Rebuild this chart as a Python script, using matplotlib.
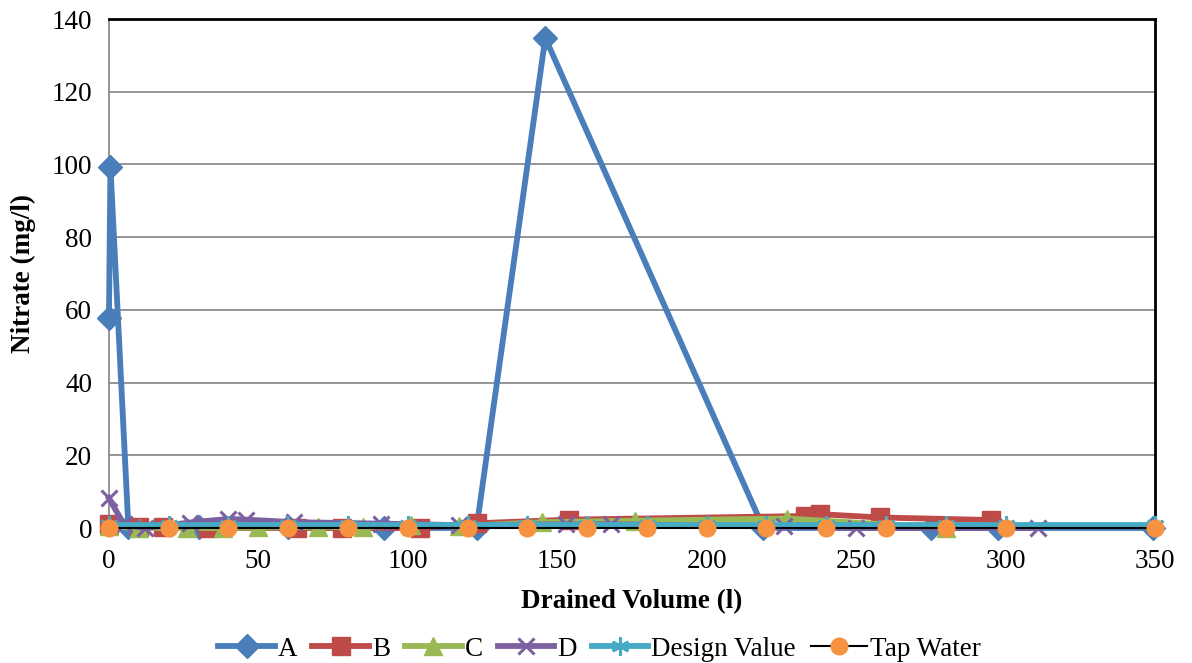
import matplotlib
matplotlib.use("Agg")
import matplotlib.pyplot as plt

plt.rcParams["font.family"] = ["Liberation Serif", "DejaVu Serif"]

# drained volume (l) and nitrate (mg/l) per column
a_x = [0, 0.5, 6.5, 30, 60, 92, 123, 146, 219, 275, 297.5, 349.5]
a_y = [57.8, 99.3, 0.3, 0.2, 0.2, 0.0, 0.0, 134.8, 0.0, 0.0, 0.0, 0.0]

b_x = [0, 10, 18, 33, 63, 78, 104, 123, 154, 233, 238, 258, 295]
b_y = [1.0, 0.3, 0.2, 0.0, 0.0, 0.0, 0.0, 1.3, 2.3, 3.3, 3.8, 2.9, 2.2]

c_x = [0, 10, 26, 38, 50, 70, 85, 101, 117, 145, 176, 227, 280]
c_y = [0.5, 0.0, 0.0, 0.0, 0.2, 0.3, 0.2, 0.8, 0.5, 1.6, 2.0, 2.6, 0.0]

d_x = [0, 5, 12, 27, 40, 46, 62, 91, 117, 153, 168, 226, 250, 311]
d_y = [8.2, 1.0, 0.0, 1.5, 2.5, 2.3, 1.6, 1.2, 0.8, 1.0, 1.0, 0.5, 0.0, 0.0]

ref_x = [0, 20, 40, 60, 80, 100, 120, 140, 160, 180, 200, 220, 240, 260, 280, 300, 350]
design_y = [0.9] * len(ref_x)
tap_y = [0.1] * len(ref_x)

x_ticks = [0, 50, 100, 150, 200, 250, 300, 350]
y_ticks = [0, 20, 40, 60, 80, 100, 120, 140]

fig = plt.figure(figsize=(11.92, 6.63), dpi=100)
ax = fig.add_axes([0.0914, 0.2036, 0.8775, 0.7677])

for yv in y_ticks[1:]:
    ax.axhline(yv, color="#8c8c8c", lw=1.3, zorder=0)

lw = 4.2
ax.plot(a_x, a_y, color="#4A7EBB", lw=lw, marker="D", ms=12, label="A", clip_on=False, zorder=3)
ax.plot(b_x, b_y, color="#BE4B48", lw=lw, marker="s", ms=13, label="B", clip_on=False, zorder=3)
ax.plot(c_x, c_y, color="#98B954", lw=lw, marker="^", ms=13, label="C", clip_on=False, zorder=3)
ax.plot(d_x, d_y, color="#7D60A0", lw=lw, marker="x", ms=12, mew=2.2, label="D", clip_on=False, zorder=3)
ax.plot(ref_x, design_y, color="#46AAC5", lw=lw, marker=(6, 2, 0), ms=13, mew=2.2,
        label="Design Value", clip_on=False, zorder=4)
ax.plot(ref_x, tap_y, color="black", lw=1.5, marker="o", ms=12, mfc="#F69240", mec="#F69240",
        label="Tap Water", clip_on=False, zorder=5)

ax.set_xlim(0, 350)
ax.set_ylim(0, 140)
ax.set_xticks(x_ticks)
ax.set_yticks(y_ticks)
ax.tick_params(axis="x", length=0, pad=15, labelsize=19.5)
ax.tick_params(axis="y", length=0, pad=12, labelsize=19.5)

ax.spines["left"].set_color("#8c8c8c")
ax.spines["left"].set_linewidth(1.3)
ax.spines["bottom"].set_visible(False)
for side in ["top", "right"]:
    ax.spines[side].set_color("black")
    ax.spines[side].set_linewidth(2)

ax.set_xlabel("Drained Volume (l)", fontsize=19.5, fontweight="bold", labelpad=11)
ax.set_ylabel("Nitrate (mg/l)", fontsize=19.5, fontweight="bold", labelpad=11)

fig.legend(loc="center", bbox_to_anchor=(0.503, 0.021), ncol=6, frameon=False,
           fontsize=19.5, handlelength=2.1, handletextpad=0.1, columnspacing=0.55)

fig.savefig("out.png", dpi=100)
plt.close()
